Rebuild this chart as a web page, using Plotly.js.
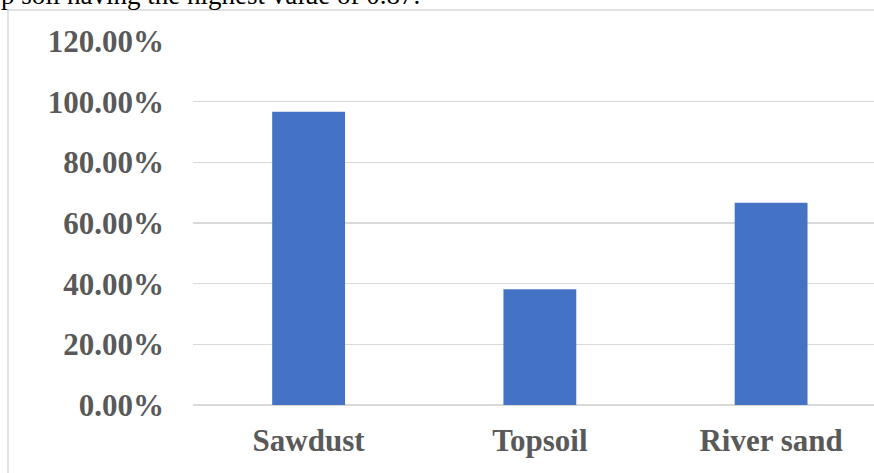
<!DOCTYPE html>
<html>
<head>
<meta charset="utf-8">
<script src="https://cdn.plot.ly/plotly-3.0.1.min.js"></script>
<style>
html,body{margin:0;padding:0;overflow:hidden;background:#fff;}
#chart{width:874px;height:473px;}
</style>
</head>
<body>
<div id="chart"></div>
<script>
const categories = ["Sawdust", "Topsoil", "River sand"];
const values = [0.967, 0.382, 0.667];
const yTickValues = [0, 0.2, 0.4, 0.6, 0.8, 1.0, 1.2];
const aboveText = "p soil having the highest value of 0.87.";

const W = 874, H = 473;
const mL = 193, mR = 0, mT = 41, mB = 68;
const pw = W - mL - mR, ph = H - mT - mB;
const px = x => (x - mL) / pw;
const py = y => (H - mB - y) / ph;

const trace = {
  type: "bar",
  x: categories,
  y: values,
  width: 0.315,
  marker: {color: "#4472C4"},
  hoverinfo: "skip"
};

const layout = {
  width: W, height: H,
  margin: {l: mL, r: mR, t: mT, b: mB, pad: 0},
  paper_bgcolor: "#ffffff",
  plot_bgcolor: "#ffffff",
  showlegend: false,
  xaxis: {
    type: "category",
    range: [-0.5, 2.445],
    showgrid: false,
    zeroline: false,
    showline: false,
    ticks: "",
    ticklabelstandoff: 14,
    tickfont: {family: "Liberation Serif", size: 31, color: "#595959", weight: "bold"}
  },
  yaxis: {
    range: [0, 1.2],
    tickvals: yTickValues,
    tickformat: ".2%",
    showgrid: true,
    gridcolor: "#d9d9d9",
    gridwidth: 1.5,
    zeroline: true,
    zerolinecolor: "#d9d9d9",
    zerolinewidth: 1.5,
    showline: false,
    ticks: "",
    ticklabelstandoff: 28,
    tickfont: {family: "Liberation Serif", size: 31, color: "#595959", weight: "bold"}
  },
  shapes: [
    {type: "line", xref: "paper", yref: "paper", x0: px(8), x1: px(8), y0: py(10), y1: py(480),
     line: {color: "#d9d9d9", width: 1.5}},
    {type: "line", xref: "paper", yref: "paper", x0: px(8), x1: px(880), y0: py(10), y1: py(10),
     line: {color: "#d9d9d9", width: 1.5}}
  ],
  annotations: [
    {text: aboveText, xref: "paper", yref: "paper", x: px(-1), y: py(12),
     xanchor: "left", yanchor: "bottom", showarrow: false,
     font: {family: "Liberation Serif", size: 27, color: "#000000"}}
  ]
};

Plotly.newPlot("chart", [trace], layout, {displayModeBar: false, staticPlot: true});
</script>
</body>
</html>
